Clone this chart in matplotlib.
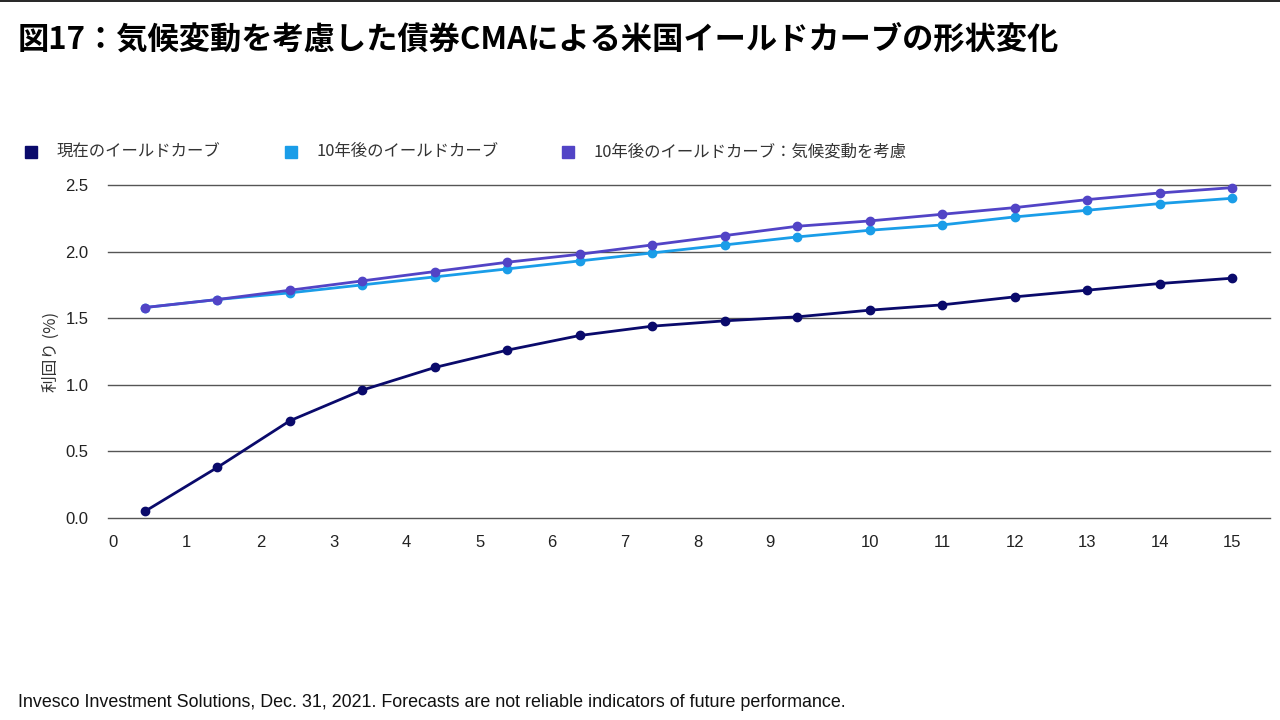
import numpy as np
import matplotlib.pyplot as plt
from matplotlib.lines import Line2D
from matplotlib.patches import Rectangle

plt.rcParams['font.family'] = ['Noto Sans CJK JP', 'DejaVu Sans']

# data
tick_labels = [str(k) for k in range(16)]
current = [0.05, 0.38, 0.73, 0.96, 1.13, 1.26, 1.37, 1.44, 1.48, 1.51, 1.56, 1.60, 1.66, 1.71, 1.76, 1.80]
after10 = [1.58, 1.64, 1.69, 1.75, 1.81, 1.87, 1.93, 1.99, 2.05, 2.11, 2.16, 2.20, 2.26, 2.31, 2.36, 2.40]
after10_climate = [1.58, 1.64, 1.71, 1.78, 1.85, 1.92, 1.98, 2.05, 2.12, 2.19, 2.23, 2.28, 2.33, 2.39, 2.44, 2.48]
series_names = ['現在のイールドカーブ', '10年後のイールドカーブ', '10年後のイールドカーブ：気候変動を考慮']
colors = ['#0a0a6b', '#1a9de8', '#5244c6']

# label positions on the axis (0-9 sit left of the points, 10-15 on them)
tick_pos = [-0.44, 0.57, 1.60, 2.61, 3.61, 4.62, 5.61, 6.62, 7.63, 8.63, 10, 11, 12, 13, 14, 15]

fig = plt.figure(figsize=(12.8, 7.2), dpi=100)
ax = fig.add_axes([0.0844, 0.2806, 0.9076, 0.4625])

x = np.arange(len(current))
for vals, c in zip([current, after10, after10_climate], colors):
    ax.plot(x, vals, color=c, lw=2.0, marker='o', ms=6, clip_on=False, zorder=3)

ax.set_xlim(-0.51, 15.52)
ax.set_ylim(0, 2.5)
yt = np.arange(0, 2.51, 0.5)
ax.set_yticks(yt)
ax.set_yticklabels(['%.1f' % v for v in yt], fontsize=12, family='Liberation Sans', color='#222222')
ax.set_xticks(tick_pos)
ax.set_xticklabels(tick_labels, fontsize=12, family='Liberation Sans', color='#222222')
ax.tick_params(length=0, pad=12)
ax.tick_params(axis='y', pad=14)
for v in yt:
    ax.axhline(v, color='#555555', lw=1.0, clip_on=False, zorder=1)
for s in ax.spines.values():
    s.set_visible(False)
ax.set_ylabel('利回り (%)', fontsize=12, color='#333333', labelpad=4)

# title and top rule
fig.add_artist(Line2D([0, 1], [0.998, 0.998], color='black', lw=1.2))
fig.text(0.014, 0.945, '図17：気候変動を考慮した債券CMAによる米国イールドカーブの形状変化',
         fontsize=22.5, fontweight='bold', va='center', ha='left')

# legend
leg_x = [0.0195, 0.2225, 0.439]
for lx, name, c in zip(leg_x, series_names, colors):
    fig.add_artist(Rectangle((lx, 0.781), 0.0095, 0.0165, color=c, transform=fig.transFigure))
    fig.text(lx + 0.0245, 0.789, name, fontsize=11.8, va='center', ha='left', color='#333333')

fig.text(0.014, 0.024, 'Invesco Investment Solutions, Dec. 31, 2021. Forecasts are not reliable indicators of future performance.',
         fontsize=12.9, family='Liberation Sans', va='center', ha='left', color='#111111')

fig.savefig('out.png', dpi=100)
